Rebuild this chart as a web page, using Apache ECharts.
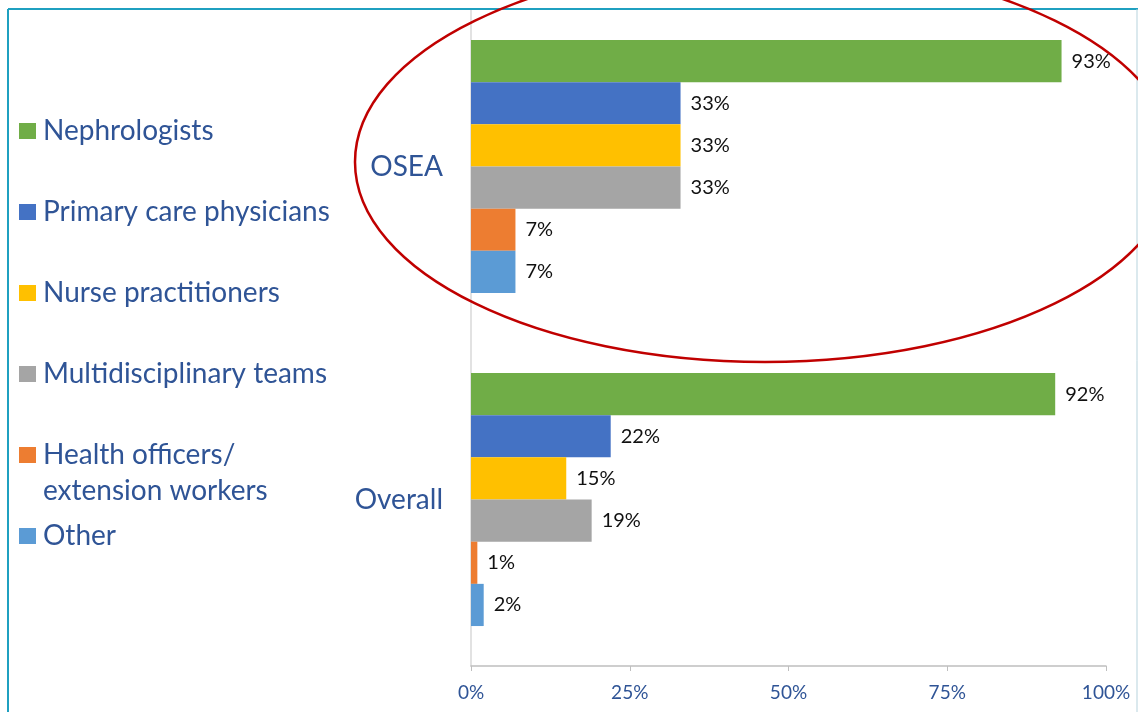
<!DOCTYPE html>
<html>
<head>
<meta charset="utf-8">
<script src="https://cdn.jsdelivr.net/npm/echarts@6/dist/echarts.min.js"></script>
<style>html,body{margin:0;padding:0;background:#fff}#c{width:1138px;height:712px}</style>
</head>
<body>
<div id="c"></div>
<script>
var categories = ['OSEA', 'Overall'];
var seriesNames = ['Nephrologists', 'Primary care physicians', 'Nurse practitioners', 'Multidisciplinary teams', 'Health officers/ extension workers', 'Other'];
var nephrologists = [93, 92];
var primaryCare = [33, 22];
var nursePract = [33, 15];
var multiTeams = [33, 19];
var healthOfficers = [7, 1];
var other = [7, 2];
var xTicks = [0, 25, 50, 75, 100];
var colors = ['#70AD47', '#4472C4', '#FFC000', '#A5A5A5', '#ED7D31', '#5B9BD5'];
var values = [nephrologists, primaryCare, nursePract, multiTeams, healthOfficers, other];

var FONT = 'Lato';
var BLUE = '#2F5496';

var chart = echarts.init(document.getElementById('c'));
var series = seriesNames.map(function (n, i) {
  return {
    name: n, type: 'bar', data: values[i],
    barGap: '0%', barCategoryGap: '24%',
    itemStyle: { color: colors[i] },
    label: { show: true, position: 'right', distance: 10, formatter: '{c}%', color: '#111', fontFamily: FONT, fontSize: 20 }
  };
});

chart.setOption({
  animation: false,
  grid: { left: 471, right: 32, top: 0, bottom: 46, containLabel: false },
  xAxis: {
    type: 'value', min: 0, max: 100, interval: 25,
    axisLine: { show: true, lineStyle: { color: '#BFBFBF', width: 1.5 } },
    axisTick: { show: true, length: 5, lineStyle: { color: '#BFBFBF' } },
    splitLine: { show: false },
    axisLabel: { formatter: '{value}%', color: BLUE, fontFamily: FONT, fontSize: 19, margin: 17 }
  },
  yAxis: {
    type: 'category', data: categories, inverse: true,
    axisLine: { show: true, lineStyle: { color: '#D9D9D9', width: 1.5 } },
    axisTick: { show: false },
    axisLabel: { color: BLUE, fontFamily: FONT, fontSize: 28, margin: 28 }
  },
  legend: [{
    orient: 'vertical', left: 19, top: 116, padding: 0, itemWidth: 17, itemHeight: 16, itemGap: 51,
    icon: 'rect', selectedMode: false,
    data: seriesNames.slice(0, 5),
    formatter: function (n) { return n === seriesNames[4] ? 'Health officers/' : n; },
    textStyle: { color: BLUE, fontFamily: FONT, fontSize: 28, lineHeight: 30, padding: [0, 0, 0, 2] }
  }, {
    orient: 'vertical', left: 19, top: 521, padding: 0, itemWidth: 17, itemHeight: 16,
    icon: 'rect', selectedMode: false,
    data: seriesNames.slice(5),
    textStyle: { color: BLUE, fontFamily: FONT, fontSize: 28, lineHeight: 30, padding: [0, 0, 0, 2] }
  }],
  graphic: [
    { type: 'text', left: 43, top: 477, z: 100, style: { text: 'extension workers', fill: BLUE, font: '28px ' + FONT } },
    { type: 'rect', shape: { x: 0, y: 0, width: 1138, height: 8 }, style: { fill: '#fff' }, z: 100, silent: true },
    { type: 'line', shape: { x1: 8, y1: 9, x2: 1138, y2: 9 }, style: { stroke: '#1FA0C0', lineWidth: 2 }, z: 101, silent: true },
    { type: 'line', shape: { x1: 8, y1: 9, x2: 8, y2: 712 }, style: { stroke: '#1FA0C0', lineWidth: 2 }, z: 101, silent: true },
    { type: 'line', shape: { x1: 1137, y1: 9, x2: 1137, y2: 712 }, style: { stroke: '#B7D3DD', lineWidth: 1 }, z: 101, silent: true },
    { type: 'ellipse', shape: { cx: 765, cy: 162, rx: 410, ry: 200 }, style: { fill: 'none', stroke: '#C00000', lineWidth: 2.5 }, z: 110, silent: true }
  ],
  series: series
});
</script>
</body>
</html>
